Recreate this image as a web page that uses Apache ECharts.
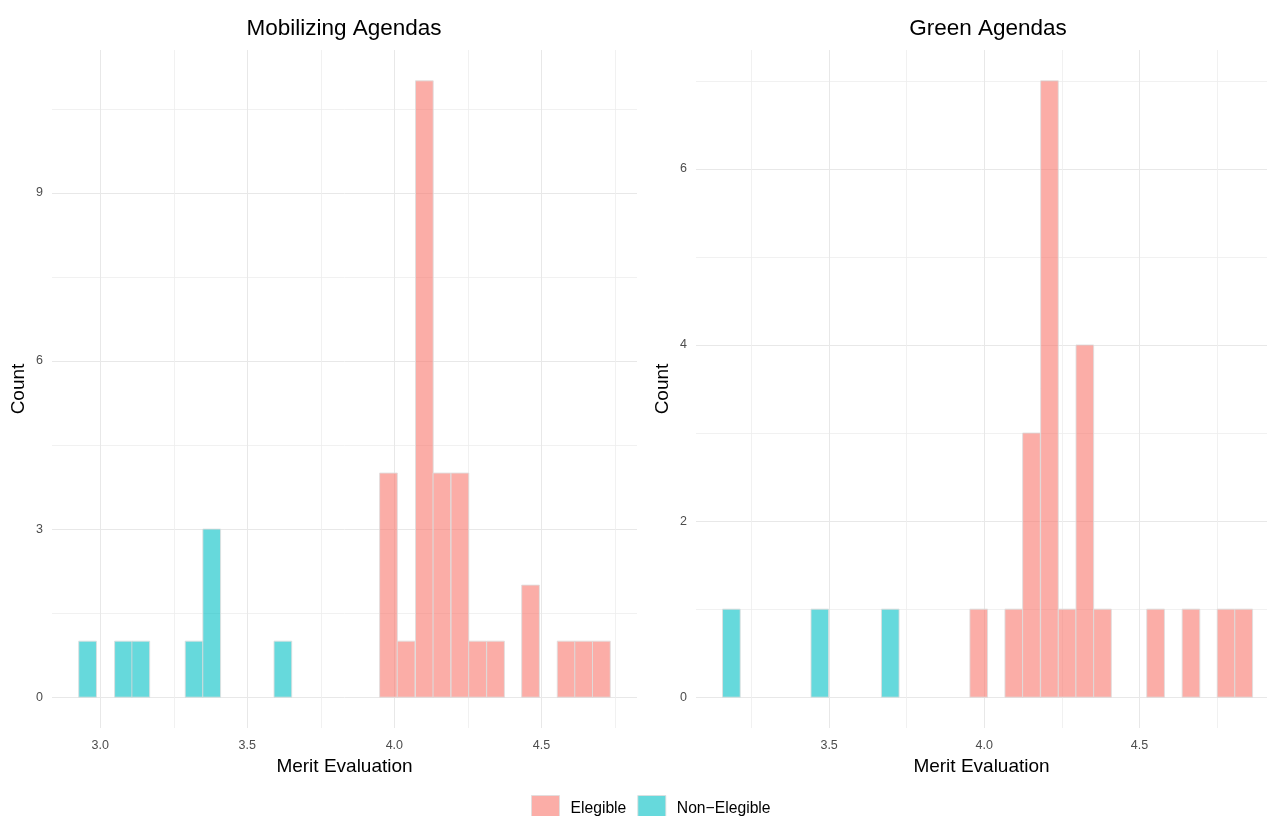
<!DOCTYPE html>
<html><head><meta charset="utf-8">
<script src="https://cdn.jsdelivr.net/npm/echarts@6/dist/echarts.min.js"></script>
<style>html,body{margin:0;padding:0;background:#fff}#c{width:1267px;height:816px}</style>
</head><body><div id="c"></div>
<script>
// ---- data ----
const panelTitles = ['Mobilizing Agendas', 'Green Agendas'];
const groupNames = ['Elegible', 'Non\u2212Elegible'];
const axisTitleX = 'Merit Evaluation';
const axisTitleY = 'Count';

const mobBinWidth = 0.0602;
const mobElegibleX = [3.980, 4.040, 4.102, 4.162, 4.223, 4.283, 4.344, 4.463, 4.584, 4.644, 4.704];
const mobElegibleCount = [4, 1, 11, 4, 4, 1, 1, 2, 1, 1, 1];
const mobNonElegibleX = [2.957, 3.079, 3.138, 3.319, 3.379, 3.621];
const mobNonElegibleCount = [1, 1, 1, 1, 3, 1];

const greenBinWidth = 0.0569;
const greenElegibleX = [3.982, 4.095, 4.152, 4.210, 4.267, 4.324, 4.381, 4.552, 4.666, 4.779, 4.836];
const greenElegibleCount = [1, 1, 3, 7, 1, 4, 1, 1, 1, 1, 1];
const greenNonElegibleX = [3.185, 3.470, 3.697];
const greenNonElegibleCount = [1, 1, 1];

const mobXTicks = [3.0, 3.5, 4.0, 4.5];
const mobXMinor = [3.25, 3.75, 4.25, 4.75];
const mobYTicks = [0, 3, 6, 9];
const mobYMinor = [1.5, 4.5, 7.5, 10.5];
const greenXTicks = [3.5, 4.0, 4.5];
const greenXMinor = [3.25, 3.75, 4.25, 4.75];
const greenYTicks = [0, 2, 4, 6];
const greenYMinor = [1, 3, 5, 7];

// ---- styling ----
const FONT = '"Liberation Sans", Arial, Helvetica, sans-serif';
const colElegible = 'rgba(248,118,109,0.6)';
const colNon = 'rgba(0,191,196,0.6)';
const outline = 'rgba(222,222,222,0.85)';
const gridCol = '#E8E8E8';
const gridColMinor = '#EEEEEE';

function zip(xs, cs) { return xs.map((x, i) => [x, cs[i]]); }

function barRender(binWidth, color) {
  return function (params, api) {
    const x = api.value(0), c = api.value(1);
    const p0 = api.coord([x - binWidth / 2, c]);
    const p1 = api.coord([x + binWidth / 2, 0]);
    return {
      type: 'rect',
      shape: { x: p0[0], y: p0[1], width: p1[0] - p0[0], height: p1[1] - p0[1] },
      style: { fill: color, stroke: outline, lineWidth: 1 }
    };
  };
}

function majorX(grid, min, max, ticks) {
  return {
    gridIndex: grid, type: 'value', min: min, max: max,
    axisLine: { show: false },
    axisTick: { show: false, customValues: ticks },
    axisLabel: { customValues: ticks, formatter: v => v.toFixed(1), color: '#4D4D4D', fontSize: 12.5, fontFamily: FONT, margin: 11 },
    splitLine: { show: true, lineStyle: { color: gridCol, width: 1 } },
    name: axisTitleX, nameLocation: 'middle', nameGap: 27,
    nameTextStyle: { color: '#000', fontSize: 19, fontFamily: FONT }
  };
}
function minorX(grid, min, max, ticks) {
  return {
    gridIndex: grid, type: 'value', min: min, max: max, position: 'bottom',
    axisLine: { show: false },
    axisTick: { show: false, customValues: ticks },
    axisLabel: { show: false },
    splitLine: { show: true, lineStyle: { color: gridColMinor, width: 0.8 } }
  };
}
function majorY(grid, min, max, ticks) {
  return {
    gridIndex: grid, type: 'value', min: min, max: max,
    axisLine: { show: false },
    axisTick: { show: false, customValues: ticks },
    axisLabel: { customValues: ticks, color: '#4D4D4D', fontSize: 12.5, fontFamily: FONT, margin: 9 },
    splitLine: { show: true, lineStyle: { color: gridCol, width: 1 } },
    name: axisTitleY, nameLocation: 'middle', nameGap: 24,
    nameTextStyle: { color: '#000', fontSize: 19, fontFamily: FONT }
  };
}
function minorY(grid, min, max, ticks) {
  return {
    gridIndex: grid, type: 'value', min: min, max: max, position: 'left',
    axisLine: { show: false },
    axisTick: { show: false, customValues: ticks },
    axisLabel: { show: false },
    splitLine: { show: true, lineStyle: { color: gridColMinor, width: 0.8 } }
  };
}

const option = {
  backgroundColor: '#fff',
  animation: false,
  graphic: [
    { type: 'text', x: 344, y: 29, style: { text: panelTitles[0], textAlign: 'center', textVerticalAlign: 'middle', fontSize: 22.5, fontFamily: FONT, fill: '#000' } },
    { type: 'text', x: 988, y: 29, style: { text: panelTitles[1], textAlign: 'center', textVerticalAlign: 'middle', fontSize: 22.5, fontFamily: FONT, fill: '#000' } }
  ],
  grid: [
    { left: 52, top: 50, width: 585, height: 678 },
    { left: 696, top: 50, width: 571, height: 678 }
  ],
  xAxis: [
    majorX(0, 2.836, 4.825, mobXTicks),
    minorX(0, 2.836, 4.825, mobXMinor),
    majorX(1, 3.071, 4.911, greenXTicks),
    minorX(1, 3.071, 4.911, greenXMinor)
  ],
  yAxis: [
    majorY(0, -0.55, 11.55, mobYTicks),
    minorY(0, -0.55, 11.55, mobYMinor),
    majorY(1, -0.35, 7.35, greenYTicks),
    minorY(1, -0.35, 7.35, greenYMinor)
  ],
  legend: {
    left: 526, top: 790, orient: 'horizontal',
    itemWidth: 28, itemHeight: 26, itemGap: 11,
    icon: 'rect',
    textStyle: { fontSize: 15.7, fontFamily: FONT, color: '#000', padding: [0, 0, 0, 6] },
    data: [
      { name: groupNames[0], itemStyle: { color: colElegible, borderColor: outline, borderWidth: 1 } },
      { name: groupNames[1], itemStyle: { color: colNon, borderColor: outline, borderWidth: 1 } }
    ]
  },
  series: [
    { type: 'custom', name: groupNames[0], xAxisIndex: 0, yAxisIndex: 0, itemStyle: { color: colElegible },
      encode: { x: 0, y: 1 }, renderItem: barRender(mobBinWidth, colElegible), data: zip(mobElegibleX, mobElegibleCount) },
    { type: 'custom', name: groupNames[1], xAxisIndex: 0, yAxisIndex: 0, itemStyle: { color: colNon },
      encode: { x: 0, y: 1 }, renderItem: barRender(mobBinWidth, colNon), data: zip(mobNonElegibleX, mobNonElegibleCount) },
    { type: 'custom', name: groupNames[0], xAxisIndex: 2, yAxisIndex: 2, itemStyle: { color: colElegible },
      encode: { x: 0, y: 1 }, renderItem: barRender(greenBinWidth, colElegible), data: zip(greenElegibleX, greenElegibleCount) },
    { type: 'custom', name: groupNames[1], xAxisIndex: 2, yAxisIndex: 2, itemStyle: { color: colNon },
      encode: { x: 0, y: 1 }, renderItem: barRender(greenBinWidth, colNon), data: zip(greenNonElegibleX, greenNonElegibleCount) }
  ]
};

const chart = echarts.init(document.getElementById('c'), null, { renderer: 'canvas' });
chart.setOption(option);
</script>
</body></html>
